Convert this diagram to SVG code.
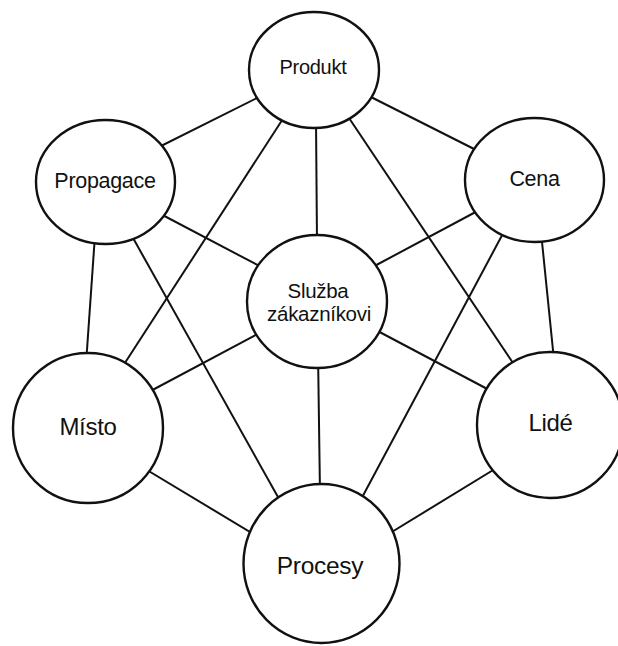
<svg xmlns="http://www.w3.org/2000/svg" width="618" height="646" viewBox="0 0 618 646">
<style>
.c{fill:#fff;stroke:#111;stroke-width:2.4}
.l{stroke:#111;stroke-width:2}
text{font-family:"Liberation Sans",Arial,sans-serif;fill:#111;text-anchor:middle;letter-spacing:-0.3px}
</style>
<rect width="618" height="646" fill="#fff"/>
<g id="connectors">
<line class="l" x1="267" y1="93" x2="153" y2="150"/>
<line class="l" x1="363" y1="93" x2="482" y2="153"/>
<line class="l" x1="288" y1="111" x2="121" y2="369"/>
<line class="l" x1="316" y1="120" x2="317" y2="243"/>
<line class="l" x1="345" y1="112" x2="515" y2="366"/>
<line class="l" x1="153" y1="210" x2="267" y2="270"/>
<line class="l" x1="128" y1="229" x2="283" y2="506"/>
<line class="l" x1="95" y1="235" x2="86" y2="364"/>
<line class="l" x1="485" y1="207" x2="367" y2="270"/>
<line class="l" x1="507" y1="226" x2="358" y2="505"/>
<line class="l" x1="541" y1="232" x2="554" y2="360"/>
<line class="l" x1="265" y1="330" x2="145" y2="394"/>
<line class="l" x1="372" y1="328" x2="493" y2="392"/>
<line class="l" x1="318" y1="352" x2="320" y2="494"/>
<line class="l" x1="137" y1="464" x2="260" y2="538"/>
<line class="l" x1="503" y1="464" x2="382" y2="538"/>
</g>
<g id="produkt"><ellipse class="c" cx="314" cy="70" rx="65" ry="58"/><text x="313" y="74" font-size="20">Produkt</text></g>
<g id="propagace"><ellipse class="c" cx="105.5" cy="182" rx="69.5" ry="62"/><text x="105" y="188" font-size="21.5">Propagace</text></g>
<g id="cena"><ellipse class="c" cx="534.5" cy="180" rx="69.5" ry="62"/><text x="534.5" y="186" font-size="21.5">Cena</text></g>
<g id="sluzba"><ellipse class="c" cx="317" cy="301.5" rx="70" ry="66.5"/><text x="318" y="298" font-size="20.5">Služba</text><text x="319" y="321" font-size="20.5">zákazníkovi</text></g>
<g id="misto"><ellipse class="c" cx="88" cy="428" rx="75" ry="75"/><text x="88" y="435" font-size="24">Místo</text></g>
<g id="lide"><ellipse class="c" cx="550" cy="425" rx="73" ry="73"/><text x="550.5" y="431" font-size="24">Lidé</text></g>
<g id="procesy"><ellipse class="c" cx="321.5" cy="563.5" rx="78" ry="79.5"/><text x="320" y="574" font-size="24.5">Procesy</text></g>
</svg>
